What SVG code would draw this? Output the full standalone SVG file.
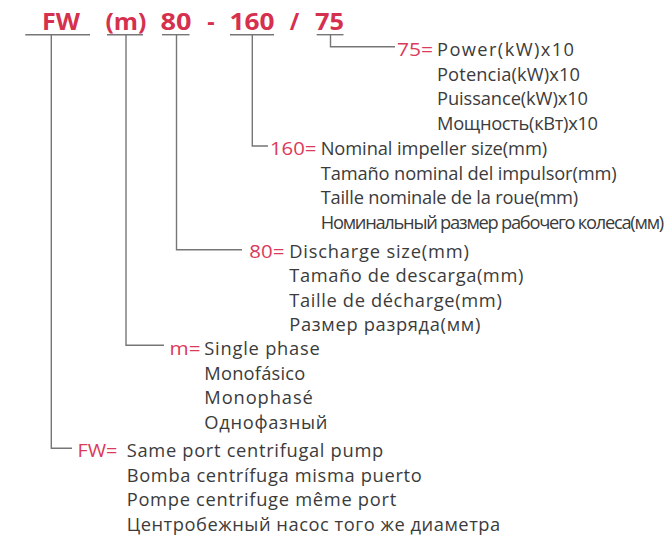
<svg xmlns="http://www.w3.org/2000/svg" width="671" height="536" viewBox="0 0 671 536">
<style>
.hd{font-family:"Open Sans","Liberation Sans",sans-serif;font-weight:700;font-size:23px;fill:#d6304f}
.lb{font-family:"Open Sans","Liberation Sans",sans-serif;font-size:18.5px;fill:#dc3a5a}
.tx{font-family:"Open Sans","Liberation Sans",sans-serif;font-size:18.3px;fill:#3b3b3b}
.ln{fill:none;stroke:#767676;stroke-width:1.4}
</style>
<rect width="671" height="536" fill="#ffffff"/>
<g id="header">
<text class="hd" x="42" y="29.5" textLength="38" lengthAdjust="spacingAndGlyphs">FW</text>
<text class="hd" x="105.5" y="29.5" textLength="41" lengthAdjust="spacingAndGlyphs">(m)</text>
<text class="hd" x="160.5" y="29.5" textLength="31" lengthAdjust="spacingAndGlyphs">80</text>
<text class="hd" x="211" y="29.5" text-anchor="middle">-</text>
<text class="hd" x="229.5" y="29.5" textLength="45" lengthAdjust="spacingAndGlyphs">160</text>
<text class="hd" x="294.5" y="29.5" text-anchor="middle">/</text>
<text class="hd" x="315" y="29.5" textLength="29" lengthAdjust="spacingAndGlyphs">75</text>
</g>
<g id="connectors">
<line class="ln" x1="25.3" y1="34.7" x2="90" y2="34.7"/>
<line class="ln" x1="107" y1="34.7" x2="143" y2="34.7"/>
<line class="ln" x1="162" y1="34.7" x2="189.5" y2="34.7"/>
<line class="ln" x1="230" y1="34.7" x2="274" y2="34.7"/>
<line class="ln" x1="316.7" y1="34.7" x2="343.5" y2="34.7"/>
<polyline class="ln" points="51.3,34.7 51.3,448.3 72,448.3"/>
<polyline class="ln" points="126,34.7 126,345.3 164,345.3"/>
<polyline class="ln" points="176.5,34.7 176.5,249.7 242,249.7"/>
<polyline class="ln" points="252.3,34.7 252.3,146 268,146"/>
<polyline class="ln" points="330.5,34.7 330.5,46.7 395,46.7"/>
</g>
<g id="node-75">
<text class="lb" x="397" y="56" textLength="36" lengthAdjust="spacingAndGlyphs">75=</text>
<text class="tx" x="437" y="56" textLength="137">Power(kW)x10</text>
<text class="tx" x="437" y="80.5" textLength="143">Potencia(kW)x10</text>
<text class="tx" x="437" y="105" textLength="151">Puissance(kW)x10</text>
<text class="tx" x="437" y="129.5" textLength="161">Мощность(кВт)x10</text>
</g>
<g id="node-160">
<text class="lb" x="270" y="155" textLength="46.5" lengthAdjust="spacingAndGlyphs">160=</text>
<text class="tx" x="320.7" y="155" textLength="226.5">Nominal impeller size(mm)</text>
<text class="tx" x="320.7" y="179.5" textLength="296">Tamaño nominal del impulsor(mm)</text>
<text class="tx" x="320.7" y="204" textLength="257.5">Taille nominale de la roue(mm)</text>
<text class="tx" x="320.7" y="228.5" textLength="343.5">Номинальный размер рабочего колеса(мм)</text>
</g>
<g id="node-80">
<text class="lb" x="249.3" y="257.8" textLength="35" lengthAdjust="spacingAndGlyphs">80=</text>
<text class="tx" x="289.3" y="257.8" textLength="179.5">Discharge size(mm)</text>
<text class="tx" x="289.3" y="282.2" textLength="234">Tamaño de descarga(mm)</text>
<text class="tx" x="289.3" y="306.6" textLength="212.5">Taille de décharge(mm)</text>
<text class="tx" x="289.3" y="331" textLength="191">Размер разряда(мм)</text>
</g>
<g id="node-m">
<text class="lb" x="169.5" y="355" textLength="31" lengthAdjust="spacingAndGlyphs">m=</text>
<text class="tx" x="204.3" y="355" textLength="115.5">Single phase</text>
<text class="tx" x="204.3" y="379.5" textLength="101">Monofásico</text>
<text class="tx" x="204.3" y="404" textLength="108.5">Monophasé</text>
<text class="tx" x="204.3" y="428.5" textLength="123">Однофазный</text>
</g>
<g id="node-FW">
<text class="lb" x="77.5" y="457" textLength="40" lengthAdjust="spacingAndGlyphs">FW=</text>
<text class="tx" x="126.7" y="457" textLength="256.5">Same port centrifugal pump</text>
<text class="tx" x="126.7" y="481.5" textLength="295">Bomba centrífuga misma puerto</text>
<text class="tx" x="126.7" y="506" textLength="269.5">Pompe centrifuge même port</text>
<text class="tx" x="126.7" y="530.5" textLength="373.5">Центробежный насос того же диаметра</text>
</g>
</svg>
